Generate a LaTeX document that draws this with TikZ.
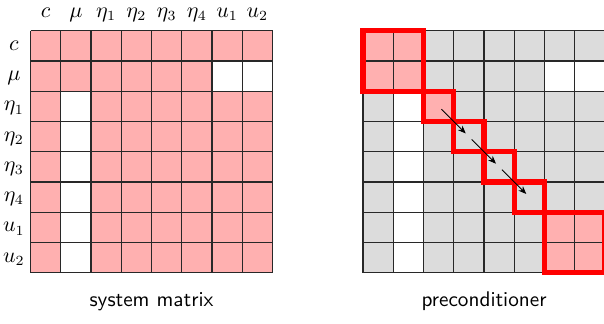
\documentclass[tikz,border=0pt]{standalone}
\usetikzlibrary{arrows.meta}
\definecolor{cellpink}{RGB}{255,176,176}
\definecolor{cellgray}{RGB}{220,220,220}
\definecolor{gridcol}{RGB}{40,40,40}
\tikzset{
  gridline/.style={draw=gridcol, line width=0.55pt},
  redblock/.style={draw=red, line width=2.6pt},
  seqarrow/.style={-{Stealth[length=4pt,width=3.2pt]}, line width=0.45pt, black, shorten <=2pt, shorten >=2.2pt},
  lab/.style={inner sep=0pt, anchor=base, font=\fontsize{10.5}{12}\selectfont},
  caption/.style={inner sep=0pt, anchor=base, font=\fontsize{10.6}{13}\selectfont\sffamily}
}
\begin{document}
\begin{tikzpicture}[x=0.5pt,y=-0.5pt]
\useasboundingbox (0,0) rectangle (604,323);

% ---------- left: system matrix ----------
\begin{scope}[shift={(30.5,30.7)}, x=15.125pt, y=-15.125pt]
  \fill[cellpink] (0,0) rectangle (8,8);
  \fill[white] (6,1) rectangle (8,2);
  \fill[white] (1,2) rectangle (2,8);
  \foreach \k in {0,...,8} {
    \draw[gridline] (\k,0) -- (\k,8);
    \draw[gridline] (0,\k) -- (8,\k);
  }
  \foreach \t [count=\i from 0] in {c,\mu,\eta_1,\eta_2,\eta_3,\eta_4,u_1,u_2} {
    \node[lab] (lc\i) at (\i+0.5,-0.45) {$\t$};
    \node[lab] (lr\i) at (-0.55,\i+0.65) {$\t$};
  }
  \node[caption] (capL) at (4,9.13) {system matrix};
\end{scope}

% ---------- right: preconditioner ----------
\begin{scope}[shift={(363,30.7)}, x=15.125pt, y=-15.125pt]
  \fill[cellgray] (0,0) rectangle (8,8);
  \fill[white] (6,1) rectangle (8,2);
  \fill[white] (1,2) rectangle (2,8);
  \fill[cellpink] (0,0) rectangle (2,2);
  \fill[cellpink] (2,2) rectangle (3,3);
  \fill[cellpink] (6,6) rectangle (8,8);
  \foreach \k in {0,...,8} {
    \draw[gridline] (\k,0) -- (\k,8);
    \draw[gridline] (0,\k) -- (8,\k);
  }
  \draw[redblock] (0,0) rectangle (2,2);
  \draw[redblock] (2,2) rectangle (3,3);
  \draw[redblock] (3,3) rectangle (4,4);
  \draw[redblock] (4,4) rectangle (5,5);
  \draw[redblock] (5,5) rectangle (6,6);
  \draw[redblock] (6,6) rectangle (8,8);
  \coordinate (d2) at (2.5,2.5);
  \coordinate (d3) at (3.5,3.5);
  \coordinate (d4) at (4.5,4.5);
  \coordinate (d5) at (5.5,5.5);
  \draw[seqarrow] (d2) -- (d3);
  \draw[seqarrow] (d3) -- (d4);
  \draw[seqarrow] (d4) -- (d5);
  \node[caption] (capR) at (4,9.13) {preconditioner};
\end{scope}
\end{tikzpicture}
\end{document}
